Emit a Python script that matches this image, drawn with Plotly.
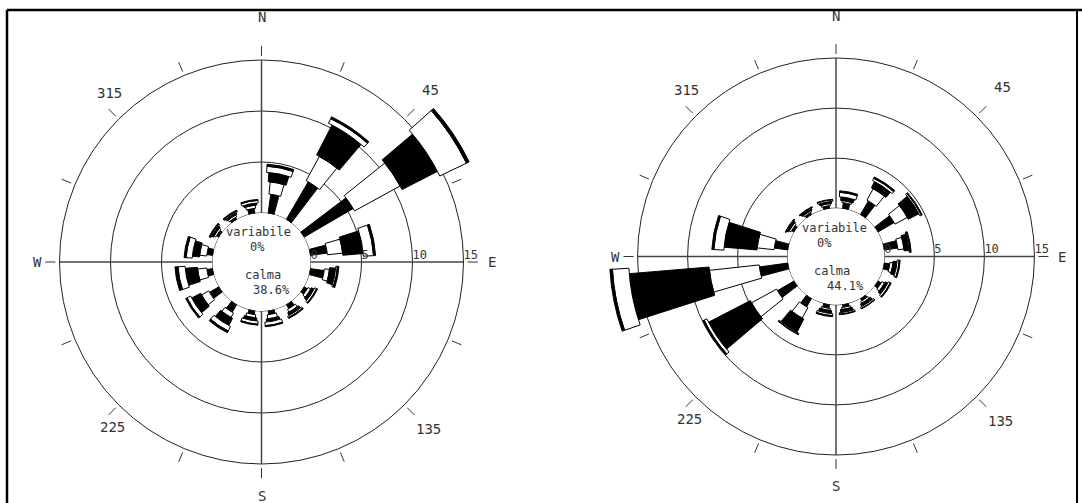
import numpy as np
import plotly.graph_objects as go

W, H = 1082, 503

# Wind direction sectors (degrees clockwise from North)
directions = [11.25, 33.75, 56.25, 78.75, 101.25, 123.75, 146.25, 168.75,
              191.25, 213.75, 236.25, 258.75, 281.25, 303.75, 326.25, 348.75]

# Frequency (%) per speed class, left station
left_c1 = [1.9, 4.3, 5.6, 1.7, 1.4, 0.4, 0.5, 0.4, 0.4, 0.9, 1.1, 0.6, 0.6, 0.3, 0.25, 0.5]
left_c2 = [1.2, 2.7, 5.1, 1.5, 0.5, 0.3, 0.3, 0.4, 0.3, 0.5, 0.8, 0.9, 0.7, 0.2, 0.2, 0.3]
left_c3 = [0.9, 3.3, 3.9, 2.0, 0.6, 0.3, 0.3, 0.3, 0.3, 0.8, 1.0, 1.2, 0.7, 0.2, 0.2, 0.2]
left_c4 = [0.6, 0.5, 2.9, 1.0, 0.15, 0.2, 0.15, 0.35, 0.3, 0.5, 0.4, 0.7, 0.6, 0.1, 0.1, 0.25]
left_c5 = [0.2, 0.2, 0.3, 0.2, 0.15, 0.1, 0.1, 0.1, 0.1, 0.2, 0.15, 0.3, 0.2, 0.1, 0.1, 0.1]

# Frequency (%) per speed class, right station
right_c1 = [0.6, 1.6, 1.9, 1.4, 0.6, 0.4, 0.3, 0.3, 0.4, 1.0, 1.95, 2.9, 1.4, 0.3, 0.25, 0.3]
right_c2 = [0.2, 1.3, 1.4, 0.6, 0.3, 0.3, 0.2, 0.2, 0.2, 1.2, 2.85, 5.0, 1.7, 0.2, 0.15, 0.2]
right_c3 = [0.35, 0.7, 1.2, 0.5, 0.4, 0.3, 0.3, 0.3, 0.3, 1.5, 4.7, 8.0, 3.3, 0.2, 0.2, 0.2]
right_c4 = [0.45, 0.25, 0.15, 0.1, 0.2, 0.2, 0.15, 0.15, 0.2, 0.1, 0.3, 1.65, 1.0, 0.05, 0.05, 0.15]
right_c5 = [0.15, 0.15, 0.1, 0.1, 0.1, 0.1, 0.05, 0.05, 0.1, 0.05, 0.15, 0.25, 0.2, 0.05, 0.05, 0.05]

calm_left = 38.6
calm_right = 44.1
variable_pct = 0

# Speed class styling: angular width and fill alternate outward
class_widths = [7, 10, 13, 16, 16]
class_fills = ["black", "white", "black", "white", "black"]

# Rings and scale labels
ring_values = [5, 10, 15]
scale_labels = ["0", "5", "10", "15"]
scale_values = [0, 5, 10, 15]
compass_labels = ["N", "E", "S", "W", "45", "135", "225", "315"]
compass_theta = [0, 90, 180, 270, 44.5, 135, 222, 318]
compass_r = [19.2, 17.8, 18.1, 17.2, 18.9, 18.4, 17.0, 17.5]
R_MAX = 18.5

TEXT_FONT = "DejaVu Sans Mono"
TEXT_COLOR = "#333333"

panels = [
    dict(name="polar", cx=261.5, cy=262.0, calm_px=49.0, unit_px=10.2,
         classes=[left_c1, left_c2, left_c3, left_c4, left_c5],
         calm=calm_left, text_offsets=[(-3, -30), (-4, -15), (1, 13), (10, 28)]),
    dict(name="polar2", cx=836.0, cy=256.5, calm_px=48.3, unit_px=10.01,
         classes=[right_c1, right_c2, right_c3, right_c4, right_c5],
         calm=calm_right, text_offsets=[(-2, -29), (-12, -14), (-4, 14), (9, 29)]),
]

fig = go.Figure()
annotations = []
layout_polars = {}

for p in panels:
    sp = p["name"]
    R = p["calm_px"] + R_MAX * p["unit_px"]
    hole = p["calm_px"] / R
    dom_x = [(p["cx"] - R) / W, (p["cx"] + R) / W]
    dom_y = [1 - (p["cy"] + R) / H, 1 - (p["cy"] - R) / H]

    # stacked speed-class bars
    for k, vals in enumerate(p["classes"]):
        fig.add_trace(go.Barpolar(
            r=vals, theta=directions, width=class_widths[k],
            marker=dict(color=class_fills[k], line=dict(color="black", width=1)),
            subplot=sp, showlegend=False, hoverinfo="skip"))

    # calm circle
    th = np.linspace(0, 360, 361)
    fig.add_trace(go.Scatterpolar(
        r=np.zeros_like(th), theta=th, mode="lines",
        line=dict(color="#222222", width=1), subplot=sp,
        showlegend=False, hoverinfo="skip", cliponaxis=False))

    # N-S and E-W axes from the calm circle to the outer ring
    ax_r, ax_t = [], []
    for t in [0, 90, 180, 270]:
        ax_r += [0, 15, None]
        ax_t += [t, t, None]
    fig.add_trace(go.Scatterpolar(
        r=ax_r, theta=ax_t, mode="lines",
        line=dict(color="#444444", width=1.5), subplot=sp,
        showlegend=False, hoverinfo="skip", cliponaxis=False))

    # compass tick dashes outside the outer ring
    tk_r, tk_t = [], []
    for t in np.arange(0, 360, 22.5):
        tk_r += [15.4, 16.4, None]
        tk_t += [t, t, None]
    fig.add_trace(go.Scatterpolar(
        r=tk_r, theta=tk_t, mode="lines",
        line=dict(color="#333333", width=1), subplot=sp,
        showlegend=False, hoverinfo="skip", cliponaxis=False))

    # radial scale labels along the East axis
    fig.add_trace(go.Scatterpolar(
        r=scale_values, theta=[90] * len(scale_values), mode="text",
        text=scale_labels, textposition="top right",
        textfont=dict(family=TEXT_FONT, size=12, color=TEXT_COLOR),
        subplot=sp, showlegend=False, hoverinfo="skip", cliponaxis=False))

    layout_polars[sp] = dict(
        domain=dict(x=dom_x, y=dom_y),
        hole=hole,
        bgcolor="rgba(0,0,0,0)",
        barmode="stack",
        radialaxis=dict(range=[0, R_MAX], tickvals=ring_values, showticklabels=False,
                        ticks="", showline=False, showgrid=True,
                        gridcolor="#222222", gridwidth=1),
        angularaxis=dict(rotation=90, direction="clockwise", showgrid=False,
                         showline=False, showticklabels=False, ticks=""),
    )

    # compass labels, placed beyond the radial range with the same radial scale
    for lab, t, r in zip(compass_labels, compass_theta, compass_r):
        r_px = p["calm_px"] + r * p["unit_px"]
        px = p["cx"] + r_px * np.sin(np.radians(t))
        py = p["cy"] - r_px * np.cos(np.radians(t))
        annotations.append(dict(
            x=px / W, y=1 - py / H, xref="paper", yref="paper", text=lab,
            showarrow=False, xanchor="center", yanchor="middle",
            font=dict(family=TEXT_FONT, size=14, color=TEXT_COLOR)))

    # centre texts: variable winds and calm percentage
    texts = ["variabile", f"{variable_pct}%", "calma", f"{p['calm']}%"]
    for txt, (ox, oy) in zip(texts, p["text_offsets"]):
        annotations.append(dict(
            x=(p["cx"] + ox) / W, y=1 - (p["cy"] + oy) / H, xref="paper", yref="paper",
            text=txt, showarrow=False, xanchor="center", yanchor="middle",
            font=dict(family=TEXT_FONT, size=12, color=TEXT_COLOR)))

# frame around the figure
frame = [
    dict(type="line", xref="paper", yref="paper", x0=7 / W, x1=1, y0=1 - 10 / H, y1=1 - 10 / H,
         line=dict(color="black", width=2.5)),
    dict(type="line", xref="paper", yref="paper", x0=7 / W, x1=7 / W, y0=0, y1=1 - 10 / H,
         line=dict(color="black", width=2.5)),
    dict(type="line", xref="paper", yref="paper", x0=1077 / W, x1=1077 / W, y0=0, y1=1 - 10 / H,
         line=dict(color="black", width=2)),
]

fig.update_layout(
    width=W, height=H,
    margin=dict(l=0, r=0, t=0, b=0),
    paper_bgcolor="white",
    plot_bgcolor="white",
    showlegend=False,
    annotations=annotations,
    shapes=frame,
    **layout_polars,
)

fig.write_html("out.html")
